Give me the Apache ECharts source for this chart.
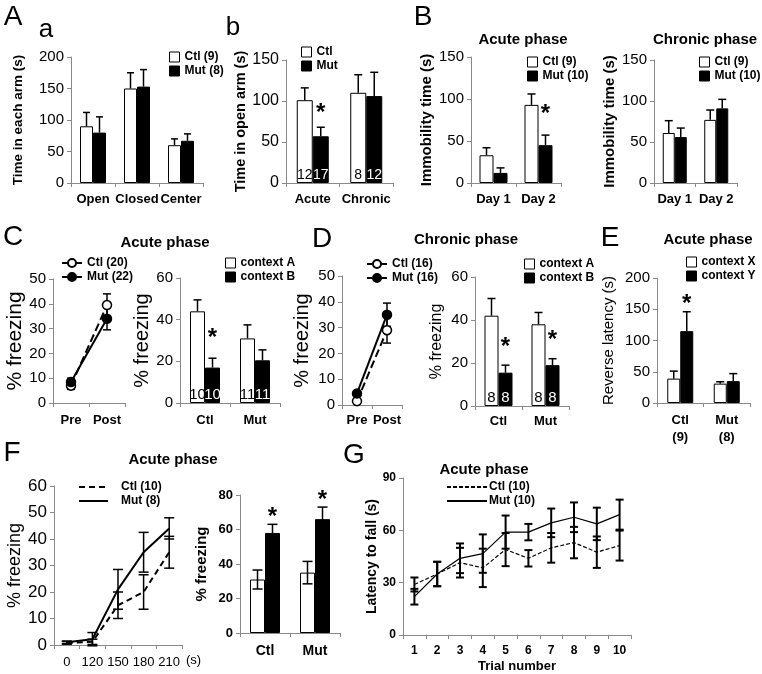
<!DOCTYPE html>
<html><head><meta charset="utf-8">
<script src="https://cdn.jsdelivr.net/npm/echarts@6/dist/echarts.min.js"></script>
<style>html,body{margin:0;padding:0;background:#fff}#c{width:762px;height:674px}</style>
</head><body><div id="c"></div>
<script>
// ---------- DATA ----------
// Panel A a
const aaCats = ['Open', 'Closed', 'Center'];
const aaCtl = [90, 150, 60];
const aaCtlErr = [22, 25, 10];
const aaMut = [80, 153, 67];
const aaMutErr = [25, 27, 11];
// Panel A b
const abCats = ['Acute', 'Chronic'];
const abCtl = [101, 110];
const abCtlErr = [15, 22];
const abMut = [57, 106];
const abMutErr = [11, 29];
const abCtlN = [12, 8];
const abMutN = [17, 12];
const abMutStar = [1, 0];
// Panel B
const bCats = ['Day 1', 'Day 2'];
const bAcuteCtl = [33, 93];
const bAcuteCtlErr = [9, 13];
const bAcuteMut = [12, 45];
const bAcuteMutErr = [6, 12];
const bAcuteMutStar = [0, 1];
const bChronCtl = [61, 77];
const bChronCtlErr = [15, 12];
const bChronMut = [56, 91];
const bChronMutErr = [11, 11];
// Panel C
const cLineCats = ['Pre', 'Post'];
const cLineCtl = [7, 39.5];
const cLineCtlErr = [1.5, 4.5];
const cLineMut = [8.5, 34];
const cLineMutErr = [1.5, 4.5];
const cBarCats = ['Ctl', 'Mut'];
const cBarA = [44, 31];
const cBarAErr = [5.5, 6.5];
const cBarB = [17, 20.5];
const cBarBErr = [4.5, 5];
const cBarAN = [10, 11];
const cBarBN = [10, 11];
const cBarBStar = [1, 0];
// Panel D
const dLineCats = ['Pre', 'Post'];
const dLineCtl = [1.5, 29];
const dLineCtlErr = [1, 5];
const dLineMut = [4.5, 35];
const dLineMutErr = [1, 4.5];
const dBarCats = ['Ctl', 'Mut'];
const dBarA = [42, 38];
const dBarAErr = [8, 5.5];
const dBarB = [15.5, 19];
const dBarBErr = [3.5, 3];
const dBarAN = [8, 8];
const dBarBN = [8, 8];
const dBarBStar = [1, 1];
// Panel E
const eCats = ['Ctl\n(9)', 'Mut\n(8)'];
const eX = [39, 31];
const eXErr = [12, 3];
const eY = [115, 35];
const eYErr = [31, 12];
const eYStar = [1, 0];
// Panel F
const fLineCats = ['0', '120', '150', '180', '210'];
const fLineCtl = [0.8, 1.2, 15, 20, 35];
const fLineCtlErr = [0.5, 1, 5, 6.5, 6];
const fLineMut = [1, 2.2, 21, 35, 44];
const fLineMutErr = [0.5, 2.5, 7.5, 7.5, 4];
const fBarCats = ['Ctl', 'Mut'];
const fBarWhite = [31, 35];
const fBarWhiteErr = [5.5, 6.5];
const fBarBlack = [58, 66];
const fBarBlackErr = [5, 7];
const fBarBlackStar = [1, 1];
// Panel G
const gCats = ['1', '2', '3', '4', '5', '6', '7', '8', '9', '10'];
const gCtl = [29, 35, 41.5, 38.5, 49, 44, 50, 53, 47.5, 51.3];
const gCtlErr = [4, 7, 8.5, 11, 9.5, 4.7, 8.5, 9, 9, 8.6];
const gMut = [22, 35, 44, 46.7, 59, 59, 64.3, 67.5, 63.7, 69];
const gMutErr = [4.5, 7, 8.5, 11, 9.5, 4.7, 8.2, 8.5, 9.3, 8.6];

// ---------- BUILD ----------
const FONT = "'Liberation Sans', Arial, Helvetica, sans-serif";
const AX = '#8a8a8a';
const option = {animation: false, backgroundColor: '#fff', grid: [], xAxis: [], yAxis: [], series: [], legend: [], graphic: []};

function addAxes(c) {
  const gi = option.grid.length;
  option.grid.push({left: c.box[0], top: c.box[1], width: c.box[2], height: c.box[3]});
  option.xAxis.push({
    type: 'category', gridIndex: gi, data: c.cats, boundaryGap: true,
    axisLine: {lineStyle: {color: AX, width: 1}},
    axisTick: {show: true, length: 4, lineStyle: {color: AX}},
    axisLabel: {color: '#000', fontFamily: FONT, fontSize: c.xFs || 13, fontWeight: c.xW || 'bold',
      margin: c.xMargin || 8, interval: 0, lineHeight: c.xLh || 16},
    name: c.xName || '', nameLocation: c.xNameLoc || 'middle', nameGap: c.xNameGap || 25,
    nameTextStyle: Object.assign({color: '#000', fontFamily: FONT, fontSize: 13, fontWeight: 'bold'}, c.xNameStyle || {})
  });
  option.yAxis.push({
    type: 'value', gridIndex: gi, min: 0, max: c.yMax, interval: c.yInt,
    splitLine: {show: false},
    axisLine: {show: true, lineStyle: {color: AX, width: 1}},
    axisTick: {show: true, length: 4, lineStyle: {color: AX}},
    axisLabel: {color: '#000', fontFamily: FONT, fontSize: c.yFs || 15, fontWeight: c.yW || 'normal', margin: c.yMargin || 7},
    name: c.yName, nameLocation: 'middle', nameRotate: 90, nameGap: c.yGap,
    nameTextStyle: {color: '#000', fontFamily: FONT, fontSize: c.yNameFs || 15, fontWeight: c.yNameW || 'normal'}
  });
  return gi;
}

function errSeries(gi, vals, errs, off, o) {
  return {
    type: 'custom', xAxisIndex: gi, yAxisIndex: gi, silent: true, z: o.z || 5,
    data: vals.map((v, i) => [i, v, errs[i], o.stars ? o.stars[i] : 0]),
    renderItem: function (params, api) {
      const i = api.value(0), v = api.value(1), e = api.value(2), s = api.value(3);
      const base = api.coord([i, v]);
      const x = base[0] + off;
      const yt = api.coord([i, v + e])[1];
      const yb = o.twoSided ? api.coord([i, v - e])[1] : base[1];
      const h = o.cap / 2;
      const st = {stroke: '#000', lineWidth: o.lw || 1.5};
      const ch = [
        {type: 'line', shape: {x1: x, y1: yt, x2: x, y2: yb}, style: st},
        {type: 'line', shape: {x1: x - h, y1: yt, x2: x + h, y2: yt}, style: st}
      ];
      if (o.twoSided) ch.push({type: 'line', shape: {x1: x - h, y1: yb, x2: x + h, y2: yb}, style: st});
      if (s) ch.push({type: 'text', style: {text: '*', x: x, y: yt - (o.lift || 15) + 5, align: 'center', verticalAlign: 'middle',
        fontSize: 24, fontWeight: 'bold', fontFamily: FONT, fill: '#000'}});
      return {type: 'group', children: ch};
    }
  };
}

function addLegend(L, names, isBar) {
  const lg = {
    data: names.map(nm => L.noMark ? {name: nm, itemStyle: {color: 'rgba(0,0,0,0)', borderWidth: 0, opacity: 0}} : (isBar ? {name: nm, icon: 'rect'} : nm)),
    left: L.x, top: L.y, orient: 'vertical', itemGap: L.gap != null ? L.gap : 2,
    itemWidth: L.w || 10, itemHeight: L.h || 10, padding: 0, selectedMode: false,
    formatter: nm => nm.split('|')[1],
    textStyle: {color: '#000', fontFamily: FONT, fontSize: 12, fontWeight: 'bold', padding: L.tp || 0}
  };
  if (isBar) lg.itemStyle = {borderWidth: 1, borderColor: '#000'};
  option.legend.push(lg);
}

function barPanel(c) {
  const gi = addAxes(c);
  const n = c.bars.length;
  c.bars.forEach(b => {
    const dark = b.fill === '#000';
    option.series.push({
      type: 'bar', name: b.name, xAxisIndex: gi, yAxisIndex: gi, data: b.vals,
      barWidth: c.bw, barGap: '0%', z: 2,
      itemStyle: {color: b.fill, borderColor: '#000', borderWidth: 1},
      label: b.n ? {show: true, position: 'insideBottom', distance: 1, color: dark ? '#fff' : '#000',
        fontFamily: FONT, fontSize: c.nFs || 15, formatter: p => String(b.n[p.dataIndex])} : {show: false}
    });
  });
  c.bars.forEach((b, si) => {
    const off = (si - (n - 1) / 2) * c.bw;
    option.series.push(errSeries(gi, b.vals, b.err, off, {twoSided: c.twoSided, cap: c.cap || 8, lw: 1.5, stars: b.stars, lift: c.starLift}));
  });
  if (c.legend) addLegend(c.legend, c.bars.map(b => b.name), true);
}

function linePanel(c) {
  const gi = addAxes(c);
  c.lines.forEach(L => {
    option.series.push(errSeries(gi, L.vals, L.err, 0, {twoSided: true, cap: c.cap || 8, lw: c.elw || 1.5, z: 2}));
    option.series.push({
      type: 'line', name: L.name, xAxisIndex: gi, yAxisIndex: gi, data: L.vals,
      symbol: L.symbol || 'none', symbolSize: L.size || 9, showSymbol: !!L.symbol, z: 3,
      itemStyle: {color: L.fill || '#000', borderColor: '#000', borderWidth: 1.5},
      lineStyle: {color: '#000', width: L.lw || 2, type: L.dash || 'solid'}
    });
  });
  if (c.legend) addLegend(c.legend, c.lines.map(l => l.name), false);
}

// A a
barPanel({box: [71, 57, 132, 126], cats: aaCats, yMax: 200, yInt: 50, yName: 'Time in each arm (s)', yGap: 46,
  yNameFs: 13.5, yNameW: 'bold', bw: 13, cap: 7,
  bars: [{name: 'aa|Ctl (9)', fill: '#fff', vals: aaCtl, err: aaCtlErr},
         {name: 'aa|Mut (8)', fill: '#000', vals: aaMut, err: aaMutErr}],
  legend: {x: 169, y: 51}});
// A b
barPanel({box: [286, 60, 107, 123], cats: abCats, yMax: 150, yInt: 50, yName: 'Time in open arm (s)', yGap: 37,
  yNameFs: 14.5, yNameW: 'bold', yFs: 16, bw: 16, cap: 8, starLift: 19, nFs: 14,
  bars: [{name: 'ab|Ctl', fill: '#fff', vals: abCtl, err: abCtlErr, n: abCtlN},
         {name: 'ab|Mut', fill: '#000', vals: abMut, err: abMutErr, n: abMutN, stars: abMutStar}],
  legend: {x: 301, y: 46}});
// B acute
barPanel({box: [471, 57, 90, 126], cats: bCats, yMax: 150, yInt: 50, yName: 'Immobility time (s)', yGap: 37,
  yNameFs: 15, yNameW: 'bold', bw: 14, cap: 8, starLift: 26,
  bars: [{name: 'aa|Ctl (9)', fill: '#fff', vals: bAcuteCtl, err: bAcuteCtlErr},
         {name: 'b1|Mut (10)', fill: '#000', vals: bAcuteMut, err: bAcuteMutErr, stars: bAcuteMutStar}],
  legend: {x: 527, y: 56}});
// B chronic
barPanel({box: [654, 60, 83, 123], cats: bCats, yMax: 150, yInt: 50, yName: 'Immobility time (s)', yGap: 37,
  yNameFs: 15, yNameW: 'bold', bw: 12, cap: 8,
  bars: [{name: 'aa|Ctl (9)', fill: '#fff', vals: bChronCtl, err: bChronCtlErr},
         {name: 'b1|Mut (10)', fill: '#000', vals: bChronMut, err: bChronMutErr}],
  legend: {x: 699, y: 56}});
// C line
linePanel({box: [53, 279, 72, 124], cats: cLineCats, yMax: 50, yInt: 10, yName: '% freezing', yGap: 26,
  yNameFs: 21, yFs: 15, xMargin: 9, cap: 8,
  lines: [{name: 'cl|Ctl (20)', vals: cLineCtl, err: cLineCtlErr, dash: 'dashed', symbol: 'circle', fill: '#fff', lw: 2},
          {name: 'cl|Mut (22)', vals: cLineMut, err: cLineMutErr, symbol: 'circle', fill: '#000', lw: 2}],
  legend: {x: 61, y: 257, w: 20}});
// C bar
barPanel({box: [180, 278, 100, 125], cats: cBarCats, yMax: 60, yInt: 20, yName: '% freezing', yGap: 23,
  yNameFs: 20, yFs: 15, xMargin: 9, bw: 15, cap: 8, starLift: 25,
  bars: [{name: 'cb|context A', fill: '#fff', vals: cBarA, err: cBarAErr, n: cBarAN},
         {name: 'cb|context B', fill: '#000', vals: cBarB, err: cBarBErr, n: cBarBN, stars: cBarBStar}],
  legend: {x: 225, y: 257}});
// D line
linePanel({box: [342, 276, 60, 129], cats: dLineCats, yMax: 50, yInt: 10, yName: '% freezing', yGap: 30,
  yNameFs: 20, yFs: 15, xMargin: 7, cap: 8,
  lines: [{name: 'dl|Ctl (16)', vals: dLineCtl, err: dLineCtlErr, dash: 'dashed', symbol: 'circle', fill: '#fff', lw: 2},
          {name: 'dl|Mut (16)', vals: dLineMut, err: dLineMutErr, symbol: 'circle', fill: '#000', lw: 2}],
  legend: {x: 366, y: 258, w: 20}});
// D bar
barPanel({box: [475, 277, 94, 129], cats: dBarCats, yMax: 60, yInt: 20, yName: '% freezing', yGap: 30,
  yNameFs: 16, yFs: 15, xMargin: 7, bw: 14, cap: 8, starLift: 23,
  bars: [{name: 'cb|context A', fill: '#fff', vals: dBarA, err: dBarAErr, n: dBarAN},
         {name: 'cb|context B', fill: '#000', vals: dBarB, err: dBarBErr, n: dBarBN, stars: dBarBStar}],
  legend: {x: 524, y: 258}});
// E
barPanel({box: [657, 278, 93, 125], cats: eCats, yMax: 200, yInt: 50, yName: 'Reverse latency (s)', yGap: 41,
  yNameFs: 15, yFs: 15, xMargin: 9, xLh: 17, bw: 13, cap: 8, starLift: 12,
  bars: [{name: 'e|context X', fill: '#fff', vals: eX, err: eXErr},
         {name: 'e|context Y', fill: '#000', vals: eY, err: eYErr, stars: eYStar}],
  legend: {x: 686, y: 256}});
// F line
linePanel({box: [54, 486, 128, 159], cats: fLineCats, yMax: 60, yInt: 10, yName: '% freezing', yGap: 26,
  yNameFs: 18, yFs: 17, xFs: 13, xW: 'normal', xMargin: 9, cap: 10,
  xName: '(s)', xNameLoc: 'end', xNameGap: 4,
  xNameStyle: {fontWeight: 'normal', verticalAlign: 'top', padding: [9, 0, 0, 0]},
  lines: [{name: 'fl|Ctl (10)', vals: fLineCtl, err: fLineCtlErr, dash: [6, 4], lw: 2},
          {name: 'fl|Mut (8)', vals: fLineMut, err: fLineMutErr, lw: 2}],
  legend: {x: 78, y: 481, w: 29, tp: [0, 0, 0, 8], noMark: true}});
// F bar
barPanel({box: [240, 495, 100, 138], cats: fBarCats, yMax: 80, yInt: 20, yName: '% freezing', yGap: 31,
  yNameFs: 15, yNameW: 'bold', yFs: 13, yW: 'bold', xFs: 14, xMargin: 10, bw: 15, cap: 10, twoSided: true, starLift: 12,
  bars: [{name: 'fb|white', fill: '#fff', vals: fBarWhite, err: fBarWhiteErr},
         {name: 'fb|black', fill: '#000', vals: fBarBlack, err: fBarBlackErr, stars: fBarBlackStar}]});
// G
linePanel({box: [403, 478, 228, 158], cats: gCats, yMax: 90, yInt: 30, yName: 'Latency to fall (s)', yGap: 19,
  yNameFs: 14, yNameW: 'bold', yFs: 12, yW: 'bold', xFs: 12, xMargin: 8, cap: 8, elw: 2,
  xName: 'Trial number', xNameGap: 22,
  lines: [{name: 'g|Ctl (10)', vals: gCtl, err: gCtlErr, dash: [4, 2], lw: 1.2},
          {name: 'g|Mut (10)', vals: gMut, err: gMutErr, lw: 1.2}],
  legend: {x: 446, y: 481, w: 40, tp: [0, 0, 0, -3], noMark: true}});

// Texts: panel letters and titles
const labels = [
  ['A', 13, 17, 28, 'normal'], ['a', 46, 30, 26, 'normal'], ['b', 233, 28, 26, 'normal'],
  ['B', 423, 17, 28, 'normal'], ['C', 13, 237, 28, 'normal'], ['D', 322, 239, 28, 'normal'],
  ['E', 610, 238, 28, 'normal'], ['F', 12, 453, 28, 'normal'], ['G', 354, 455, 28, 'normal'],
  ['Acute phase', 523, 40, 15, 'bold'], ['Chronic phase', 705, 40, 15, 'bold'],
  ['Acute phase', 165, 243, 15, 'bold'], ['Chronic phase', 466, 240, 15, 'bold'],
  ['Acute phase', 708, 240, 15, 'bold'], ['Acute phase', 173, 460, 15, 'bold'],
  ['Acute phase', 484, 470, 15, 'bold']
];
labels.forEach(t => option.graphic.push({type: 'text', x: t[1], y: t[2], silent: true,
  style: {text: t[0], fill: '#000', fontSize: t[3], fontWeight: t[4], fontFamily: FONT,
    align: 'center', verticalAlign: 'middle', textAlign: 'center', textVerticalAlign: 'middle'}}));

const chart = echarts.init(document.getElementById('c'), null, {renderer: 'canvas'});
chart.setOption(option);
</script></body></html>
